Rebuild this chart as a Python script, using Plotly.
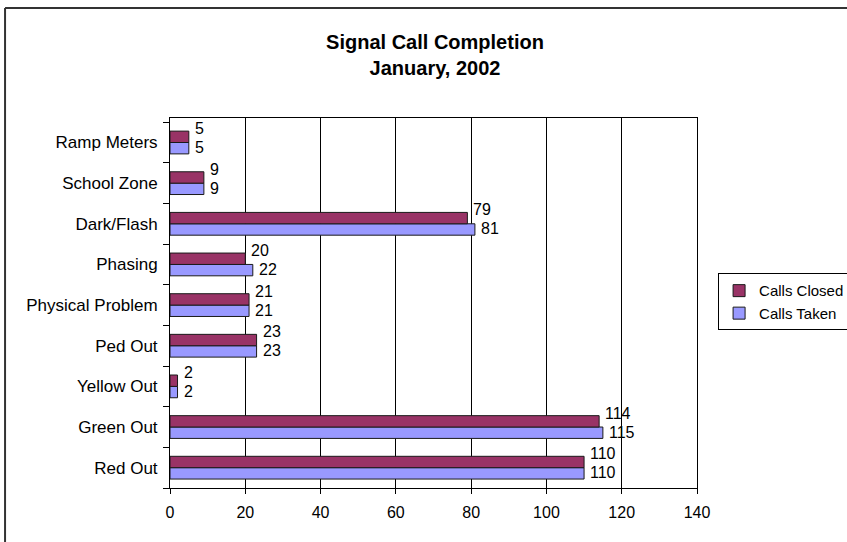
import plotly.graph_objects as go

# categories listed bottom -> top (plotly puts first category at the bottom)
categories = ['Red Out', 'Green Out', 'Yellow Out', 'Ped Out', 'Physical Problem',
              'Phasing', 'Dark/Flash', 'School Zone', 'Ramp Meters']
calls_closed = [110, 114, 2, 23, 21, 20, 79, 9, 5]
calls_taken = [110, 115, 2, 23, 21, 22, 81, 9, 5]

FONT = 'Liberation Sans, Arial, sans-serif'

fig = go.Figure()
# Taken first so it sits below Closed within each group
fig.add_trace(go.Bar(
    y=categories, x=calls_taken, orientation='h', name='Calls Taken',
    marker=dict(color='#9999FF', line=dict(color='#1a1a1a', width=1)),
))
fig.add_trace(go.Bar(
    y=categories, x=calls_closed, orientation='h', name='Calls Closed',
    marker=dict(color='#993366', line=dict(color='#1a1a1a', width=1)),
))

# value labels, Excel-style: the Closed label sits a bit above its bar
labels = []
for cat, v in zip(categories, calls_closed):
    labels.append(dict(x=v, y=cat, text=str(v), xanchor='left', yanchor='middle',
                       xshift=4, yshift=14, showarrow=False))
for cat, v in zip(categories, calls_taken):
    labels.append(dict(x=v, y=cat, text=str(v), xanchor='left', yanchor='middle',
                       xshift=4, yshift=-5, showarrow=False))

fig.update_layout(
    width=847, height=542,
    margin=dict(l=170, r=150, t=118, b=54, autoexpand=False),
    paper_bgcolor='white', plot_bgcolor='white',
    font=dict(family=FONT, size=16, color='black'),
    barmode='group', bargap=0.44, bargroupgap=0,
    title=dict(text='<b>Signal Call Completion<br>January, 2002</b>',
               x=435 / 847, xanchor='center', y=1 - 49 / 542, yanchor='middle',
               font=dict(size=20, family=FONT, color='black')),
    legend=dict(x=1.04, xanchor='left', y=0.503, yanchor='middle',
                traceorder='reversed', bordercolor='black', borderwidth=1,
                font=dict(size=15, family=FONT), itemwidth=30, tracegroupgap=4),
    showlegend=True,
    annotations=labels,
    shapes=[
        dict(type='line', xref='paper', yref='paper', x0=-0.313, x1=1.4,
             y0=1.297, y1=1.297, line=dict(color='#333333', width=2)),
        dict(type='line', xref='paper', yref='paper', x0=-0.313, x1=-0.313,
             y0=1.297, y1=-0.3, line=dict(color='#333333', width=2)),
    ],
)
fig.update_xaxes(
    range=[0, 140], dtick=20, showgrid=True, gridcolor='black', gridwidth=1,
    showline=True, linecolor='black', linewidth=1, mirror=True,
    ticks='outside', ticklen=5, tickcolor='black', zeroline=False,
    ticklabelstandoff=5, tickfont=dict(size=16),
)
fig.update_yaxes(
    showline=True, linecolor='black', linewidth=1, mirror=True,
    ticks='outside', ticklen=6, tickcolor='black', tickson='boundaries',
    showgrid=False, tickfont=dict(size=17), ticklabelstandoff=8,
)

fig.write_html('out.html', config={'displayModeBar': False},
               post_script="document.body.style.margin='0';")
